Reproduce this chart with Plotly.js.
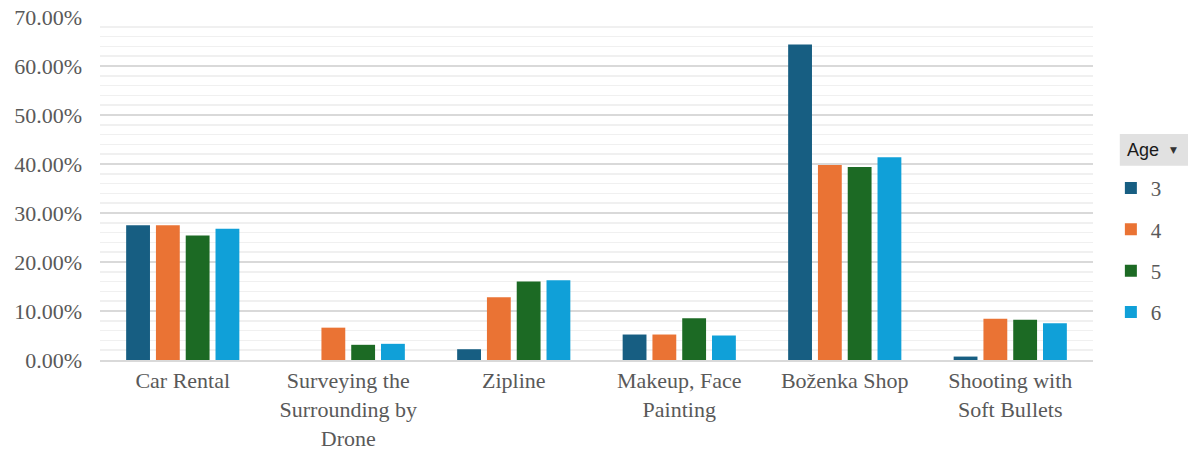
<!DOCTYPE html>
<html>
<head>
<meta charset="utf-8">
<script src="https://cdn.plot.ly/plotly-3.0.1.min.js"></script>
<style>html,body{margin:0;padding:0;background:#fff;}#chart{width:1188px;height:455px;}</style>
</head>
<body>
<div id="chart"></div>
<script>
const categories = ["Car Rental", "Surveying the<br>Surrounding by<br>Drone", "Zipline", "Makeup, Face<br>Painting", "Boženka Shop", "Shooting with<br>Soft Bullets"];
const seriesNames = ["3", "4", "5", "6"];
const age3 = [27.5, 0, 2.2, 5.2, 64.4, 0.7];
const age4 = [27.5, 6.6, 12.8, 5.2, 39.8, 8.4];
const age5 = [25.4, 3.1, 16.0, 8.5, 39.4, 8.2];
const age6 = [26.8, 3.3, 16.3, 5.0, 41.4, 7.5];
const yTickVals = [0, 10, 20, 30, 40, 50, 60, 70];
const yTickText = ["0.00%", "10.00%", "20.00%", "30.00%", "40.00%", "50.00%", "60.00%", "70.00%"];

const colors = ["#175E82", "#EA7334", "#1C6A24", "#10A0D8"];
const serif = "Liberation Serif, Times New Roman, serif";
const allSeries = [age3, age4, age5, age6];

const traces = allSeries.map((vals, i) => ({
  type: "bar",
  name: seriesNames[i],
  x: categories,
  y: vals,
  legendgroup: "g" + i,
  marker: {color: colors[i], line: {width: 0}},
  hoverinfo: "x+y+name"
}));

const layout = {
  width: 1188, height: 455,
  margin: {l: 100, r: 95, t: 17, b: 95},
  paper_bgcolor: "#fff", plot_bgcolor: "#fff",
  barmode: "group", bargap: 0.28, bargroupgap: 0.2,
  font: {family: serif, color: "#595959", size: 22},
  xaxis: {
    type: "category",
    showline: true, linecolor: "#d9d9d9", linewidth: 2,
    showgrid: false, ticks: "",
    tickfont: {family: serif, size: 22, color: "#595959"}
  },
  yaxis: {
    range: [0, 70], tickmode: "array", tickvals: yTickVals, ticktext: yTickText,
    showgrid: true, gridcolor: "#d9d9d9", gridwidth: 1.5,
    zeroline: false, ticks: "", ticklabelstandoff: 17,
    minor: {dtick: 2, showgrid: true, gridcolor: "#f0f0f0", gridwidth: 1.5},
    tickfont: {family: serif, size: 22, color: "#595959"},
    fixedrange: true
  },
  showlegend: true,
  legend: {
    x: 1.018, xanchor: "left", y: 0.56, yanchor: "top",
    traceorder: "grouped", tracegroupgap: 11,
    font: {family: serif, size: 21, color: "#595959"},
    itemwidth: 30, bgcolor: "rgba(0,0,0,0)"
  },
  shapes: [{
    type: "rect", xref: "paper", yref: "paper",
    x0: 1.027, x1: 1.096, y0: 0.566, y1: 0.659,
    fillcolor: "#e1e1e1", line: {width: 0}
  }],
  annotations: [{
    xref: "paper", yref: "paper", x: 1.032, y: 0.6125,
    xanchor: "left", yanchor: "middle", showarrow: false,
    text: "Age", font: {family: "Liberation Sans, Arial, sans-serif", size: 18, color: "#1a1a1a"}
  }, {
    xref: "paper", yref: "paper", x: 1.081, y: 0.6125,
    xanchor: "center", yanchor: "middle", showarrow: false,
    text: "▼", font: {family: "DejaVu Sans, sans-serif", size: 9, color: "#333"}
  }]
};

Plotly.newPlot("chart", traces, layout, {displayModeBar: false, staticPlot: true});
</script>
</body>
</html>
